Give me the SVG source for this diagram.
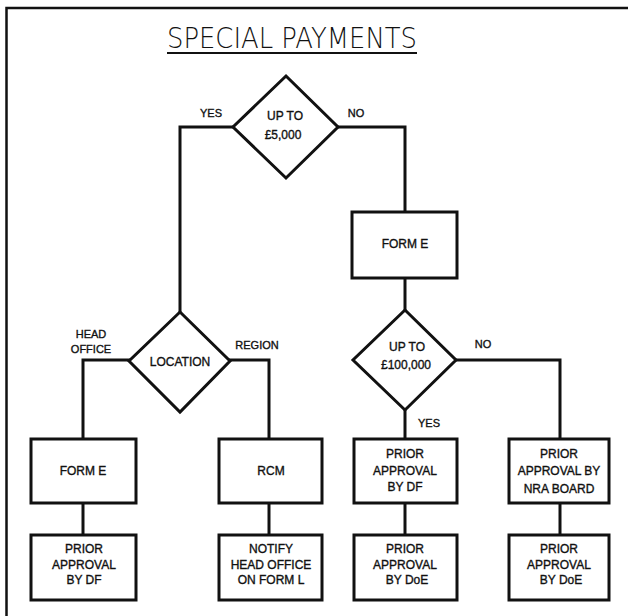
<svg xmlns="http://www.w3.org/2000/svg" width="628" height="616" viewBox="0 0 628 616">
  <style>
    .frame { fill: none; stroke: #111; stroke-width: 2.5; }
    .shape { fill: #fff; stroke: #111; stroke-width: 3; stroke-linejoin: miter; }
    .wire { fill: none; stroke: #111; stroke-width: 3; stroke-linecap: square; }
    .t { font-family: "Liberation Sans", "DejaVu Sans", sans-serif; font-size: 12px; fill: #111; stroke: #111; stroke-width: 0.35; text-anchor: middle; }
    .lbl { font-family: "Liberation Sans", "DejaVu Sans", sans-serif; font-size: 11px; fill: #111; stroke: #111; stroke-width: 0.35; text-anchor: middle; }
    .title { font-family: "DejaVu Sans", "Liberation Sans", sans-serif; font-size: 28px; font-weight: 200; fill: #111; }
  </style>
  <rect width="628" height="616" fill="#fff"/>

  <!-- page frame: top rule and left rule -->
  <path class="frame" d="M6.5,616 V8 H628"/>

  <!-- heading -->
  <g id="title">
    <text class="title" x="167" y="48" textLength="250" lengthAdjust="spacingAndGlyphs">SPECIAL PAYMENTS</text>
    <line x1="167" y1="53" x2="417" y2="53" stroke="#111" stroke-width="1.8"/>
  </g>

  <!-- connectors -->
  <g id="connectors">
    <path class="wire" d="M233,127 H180 V312"/>
    <path class="wire" d="M338,127 H405 V212"/>
    <path class="wire" d="M405,278 V310"/>
    <path class="wire" d="M129,360 H83 V439"/>
    <path class="wire" d="M230,360 H269 V439"/>
    <path class="wire" d="M405,410 V439"/>
    <path class="wire" d="M456,360 H560 V439"/>
    <path class="wire" d="M83,503 V535"/>
    <path class="wire" d="M269,503 V535"/>
    <path class="wire" d="M405,503 V535"/>
    <path class="wire" d="M560,503 V535"/>
  </g>

  <!-- branch labels -->
  <g id="labels">
    <text class="lbl" x="211" y="117">YES</text>
    <text class="lbl" x="356" y="117">NO</text>
    <text class="lbl" x="91" y="338">HEAD</text>
    <text class="lbl" x="91" y="353">OFFICE</text>
    <text class="lbl" x="257" y="349">REGION</text>
    <text class="lbl" x="483" y="348">NO</text>
    <text class="lbl" x="429" y="427">YES</text>
  </g>

  <g id="decision-limit-5000">
    <polygon class="shape" points="286,76 338,127 286,178 233,127"/>
    <text class="t" x="285" y="120">UP TO</text>
    <text class="t" x="283" y="139">£5,000</text>
  </g>

  <g id="form-e-large">
    <rect class="shape" x="352" y="212" width="105" height="66"/>
    <text class="t" x="405" y="248">FORM E</text>
  </g>

  <g id="decision-location">
    <polygon class="shape" points="180,312 230,361 180,412 129,361"/>
    <text class="t" x="180" y="366">LOCATION</text>
  </g>

  <g id="decision-limit-100000">
    <polygon class="shape" points="405,310 456,360 405,410 353,360"/>
    <text class="t" x="407" y="351">UP TO</text>
    <text class="t" x="406" y="369">£100,000</text>
  </g>

  <g id="form-e-head-office">
    <rect class="shape" x="31" y="439" width="105" height="64"/>
    <text class="t" x="83" y="475">FORM E</text>
  </g>

  <g id="rcm">
    <rect class="shape" x="219" y="439" width="103" height="64"/>
    <text class="t" x="271" y="475">RCM</text>
  </g>

  <g id="approval-df">
    <rect class="shape" x="354" y="439" width="103" height="64"/>
    <text class="t" x="405" y="458">PRIOR</text>
    <text class="t" x="405" y="475">APPROVAL</text>
    <text class="t" x="405" y="491">BY DF</text>
  </g>

  <g id="approval-nra-board">
    <rect class="shape" x="509" y="439" width="100" height="64"/>
    <text class="t" x="559" y="458">PRIOR</text>
    <text class="t" x="559" y="475">APPROVAL BY</text>
    <text class="t" x="559" y="493">NRA BOARD</text>
  </g>

  <g id="approval-df-head-office">
    <rect class="shape" x="31" y="535" width="105" height="65"/>
    <text class="t" x="84" y="553">PRIOR</text>
    <text class="t" x="84" y="569">APPROVAL</text>
    <text class="t" x="84" y="584">BY DF</text>
  </g>

  <g id="notify-head-office">
    <rect class="shape" x="219" y="535" width="103" height="65"/>
    <text class="t" x="271" y="553">NOTIFY</text>
    <text class="t" x="271" y="569">HEAD OFFICE</text>
    <text class="t" x="271" y="584">ON FORM L</text>
  </g>

  <g id="approval-doe-1">
    <rect class="shape" x="354" y="535" width="103" height="65"/>
    <text class="t" x="405" y="553">PRIOR</text>
    <text class="t" x="405" y="569">APPROVAL</text>
    <text class="t" x="407" y="584">BY DoE</text>
  </g>

  <g id="approval-doe-2">
    <rect class="shape" x="509" y="535" width="100" height="65"/>
    <text class="t" x="559" y="553">PRIOR</text>
    <text class="t" x="559" y="569">APPROVAL</text>
    <text class="t" x="561" y="584">BY DoE</text>
  </g>
</svg>
